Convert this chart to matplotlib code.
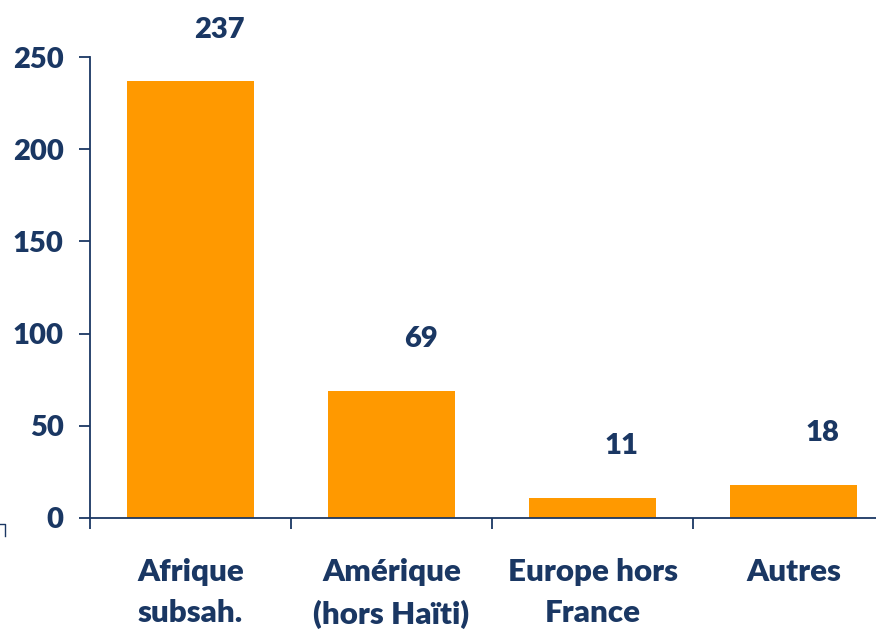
import matplotlib.pyplot as plt
from matplotlib.lines import Line2D
import numpy as np

categories = ["Afrique\nsubsah.", "Amérique\n(hors Haïti)", "Europe hors\nFrance", "Autres"]
values = [237, 69, 11, 18]
yticks = [0, 50, 100, 150, 200, 250]

navy = "#1A3763"
orange = "#FF9900"

plt.rcParams['font.family'] = ['Lato', 'DejaVu Sans']
plt.rcParams['font.weight'] = 'heavy'

W, H = 876, 632
fig = plt.figure(figsize=(W / 100, H / 100), dpi=100)
ax = fig.add_axes([90 / W, (H - 518) / H, 804 / W, 461 / H])

x = np.arange(len(categories))
ax.bar(x, values, width=0.63, color=orange)

for xi, v in zip(x, values):
    ax.annotate(str(v), (xi, v), xytext=(21, 37), textcoords="offset points",
                ha="center", va="center", fontsize=21, fontweight="heavy", color=navy)

ax.set_xlim(-0.5, 3.5)
ax.set_ylim(0, 250)
ax.set_yticks(yticks)
ax.set_yticklabels([str(t) for t in yticks], fontweight="heavy")

ax.set_xticks(x)
ax.set_xticklabels(categories, fontsize=22.5, fontweight="heavy", color=navy, linespacing=1.55)
ax.set_xticks(np.arange(-0.5, 4, 1), minor=True)
ax.tick_params(axis="x", which="major", length=0, pad=29)
ax.tick_params(axis="x", which="minor", length=8, width=1.3, color=navy, direction="out")
ax.tick_params(axis="y", length=8, width=1.3, color=navy, direction="out", pad=11,
               labelsize=21, labelcolor=navy)

for s in ["top", "right"]:
    ax.spines[s].set_visible(False)
for s in ["left", "bottom"]:
    ax.spines[s].set_color(navy)
    ax.spines[s].set_linewidth(1.3)

# small stray mark at bottom left of the original
fig.add_artist(Line2D([0, 5 / W, 5 / W], [(H - 524) / H, (H - 524) / H, (H - 536) / H],
                      color=navy, lw=1.0, transform=fig.transFigure))

fig.savefig("out.png", dpi=100)
